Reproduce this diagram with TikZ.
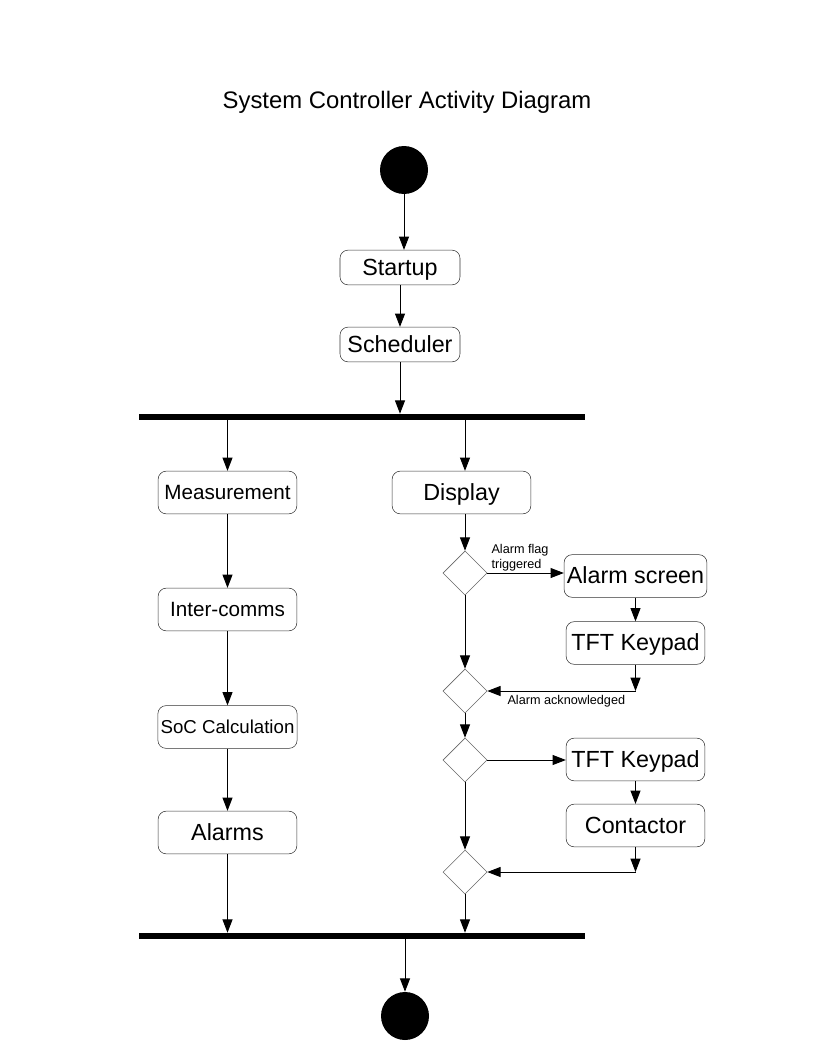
\documentclass[tikz,border=0pt]{standalone}
\usepackage{fontspec}
\setmainfont{Liberation Sans}
\usetikzlibrary{arrows.meta,shapes.geometric}
\begin{document}
\begin{tikzpicture}[x=0.75pt,y=-0.75pt,
    activity/.style={draw=black!80,rounded corners=6pt,minimum width=104pt,minimum height=32pt,inner sep=2pt,text height=12.5pt,text depth=0.6pt,font=\fontsize{17.5}{20}\selectfont},
    midtext/.style={text height=11.1pt,text depth=0.5pt,font=\fontsize{15.5}{18}\selectfont},
    smalltext/.style={text height=10pt,text depth=0.5pt,font=\fontsize{14}{16}\selectfont},
    smallbox/.style={minimum width=90pt,minimum height=26pt},
    decision/.style={draw=black!60,diamond,minimum width=33pt,minimum height=33pt,inner sep=0pt},
    syncbar/.style={fill=black,minimum width=334.5pt,minimum height=4.5pt,inner sep=0pt},
    terminal/.style={fill=black,circle,minimum size=36pt,inner sep=0pt},
    flow/.style={-{Triangle[length=10pt,width=7.5pt]},line width=0.75pt},
    guard/.style={font=\fontsize{9.5}{11.5}\selectfont,align=left,inner sep=0pt}]
                \useasboundingbox (0,0) rectangle (816,1056);
                \node (title) at (407,102) {\fontsize{17.9}{20}\selectfont System Controller Activity Diagram};
                \node[terminal] (start) at (404,170) {};
                \node[activity,smallbox] (startup) at (400,267.5) {Startup};
                \node[activity,smallbox] (sched) at (400,344.5) {Scheduler};
                \node[syncbar] (topbar) at (362,417) {};
                \node[activity,midtext] (meas) at (227.5,492.5) {Measurement};
                \node[activity,midtext] (comms) at (227.5,609.5) {Inter-comms};
                \node[activity,smalltext] (soc) at (227.5,727) {SoC Calculation};
                \node[activity] (alarms) at (227.5,832.5) {Alarms};
                \node[activity] (disp) at (461.5,492.5) {Display};
                \node[decision] (d1) at (465,573) {};
                \node[activity] (ascreen) at (635.5,576) {Alarm screen};
                \node[activity] (tft1) at (635.5,643) {TFT Keypad};
                \node[decision] (d2) at (465,691) {};
                \node[decision] (d3) at (465,760) {};
                \node[activity] (tft2) at (635.5,759.5) {TFT Keypad};
                \node[activity] (contact) at (635.5,825.5) {Contactor};
                \node[decision] (d4) at (465,872) {};
                \node[syncbar] (botbar) at (362,936) {};
                \node[terminal] (stop) at (405,1016) {};
                \coordinate (ack) at (tft1.south |- d2.east);
                \coordinate (done) at (contact.south |- d4.east);

                \draw[flow] (start.south) -- (start.south |- startup.north);
                \draw[flow] (startup) -- (sched);
                \draw[flow] (sched.south) -- (sched.south |- topbar.north);
                \draw[flow] (topbar.south -| meas.north) -- (meas.north);
                \draw[flow] (meas) -- (comms);
                \draw[flow] (comms) -- (soc);
                \draw[flow] (soc) -- (alarms);
                \draw[flow] (alarms.south) -- (alarms.south |- botbar.north);
                \draw[flow] (topbar.south -| d1.north) -- (d1.north |- disp.north);
                \draw[flow] (d1.north |- disp.south) -- (d1.north);
                \draw[flow] (d1.east) -- (ascreen.west |- d1.east);
                \node[guard,anchor=south west] (flaglbl) at ([xshift=3pt,yshift=1pt]d1.east) {Alarm flag\\triggered};
                \draw[flow] (ascreen) -- (tft1);
                \draw[flow] (tft1.south) -- (ack);
                \draw[flow] (ack) -- (d2.east);
                \node[guard,anchor=north west] (acklbl) at ([xshift=15pt,yshift=-3pt]d2.east) {Alarm acknowledged};
                \draw[flow] (d1.south) -- (d2.north);
                \draw[flow] (d2.south) -- (d3.north);
                \draw[flow] (d3.east) -- (tft2.west |- d3.east);
                \draw[flow] (tft2) -- (contact);
                \draw[flow] (contact.south) -- (done);
                \draw[flow] (done) -- (d4.east);
                \draw[flow] (d3.south) -- (d4.north);
                \draw[flow] (d4.south) -- (d4.south |- botbar.north);
                \draw[flow] (botbar.south -| stop.north) -- (stop.north);

                \end{tikzpicture}
\end{document}
